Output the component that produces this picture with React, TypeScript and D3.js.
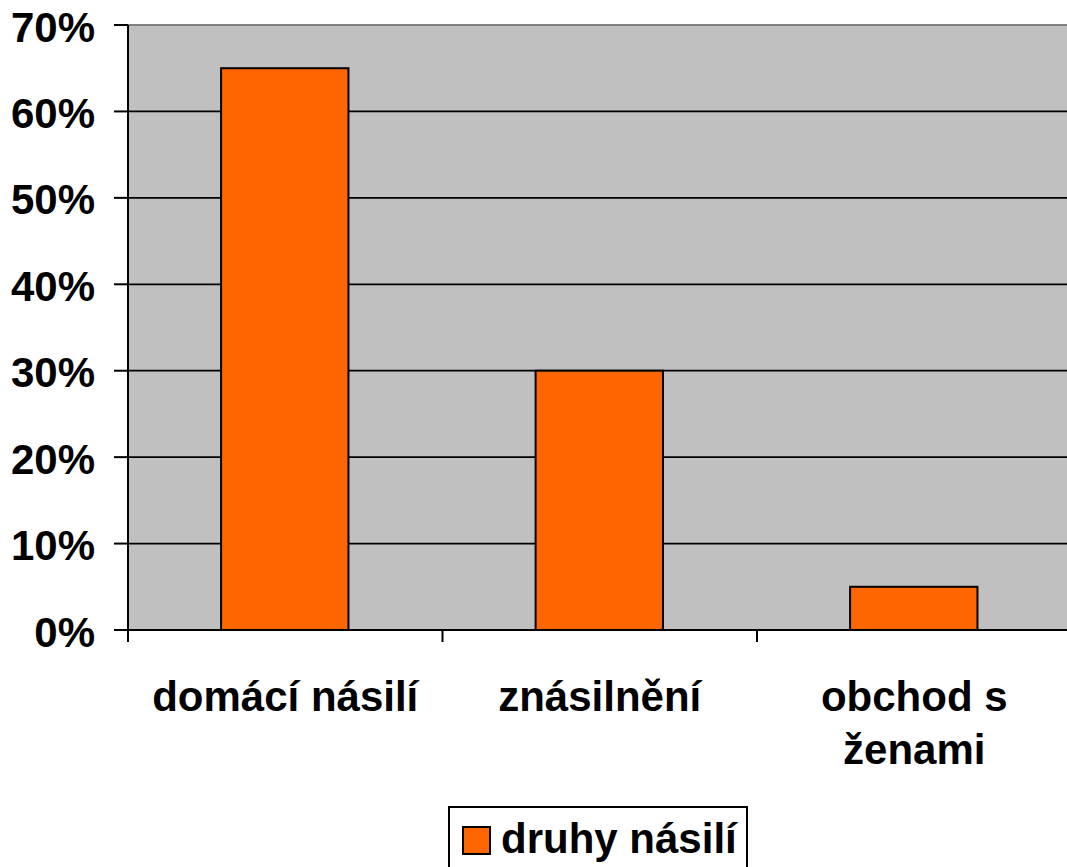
import React, { useEffect, useRef } from "react";
import * as d3 from "d3";

const categories = ["domácí násilí", "znásilnění", "obchod s ženami"];
const values = [0.65, 0.3, 0.05];
const yTicks = [0, 0.1, 0.2, 0.3, 0.4, 0.5, 0.6, 0.7];
const seriesName = "druhy násilí";

const W = 1067;
const H = 867;
const FONT = "'Liberation Sans', Arial, sans-serif";
const FS = 42;

export default function App() {
  const ref = useRef<SVGSVGElement>(null);

  useEffect(() => {
    const svg = d3.select(ref.current);
    svg.selectAll("*").remove();

    const left = 128;
    const top = 25;
    const bottom = 630;

    const x = d3
      .scaleBand<string>()
      .domain(categories)
      .range([left, left + 3 * 314.5])
      .padding(0);
    const y = d3.scaleLinear().domain([0, 0.7]).range([bottom, top]);
    const step = x.step();

    // plot area
    svg
      .append("rect")
      .attr("x", left)
      .attr("y", top)
      .attr("width", x.range()[1] - left)
      .attr("height", bottom - top)
      .attr("fill", "#c0c0c0");

    // gridlines
    svg
      .append("g")
      .selectAll("line")
      .data(yTicks.slice(1, -1))
      .enter()
      .append("line")
      .attr("x1", left)
      .attr("x2", x.range()[1])
      .attr("y1", (d) => y(d))
      .attr("y2", (d) => y(d))
      .attr("stroke", "#000")
      .attr("stroke-width", 1.7);

    // top border
    svg
      .append("line")
      .attr("x1", left)
      .attr("x2", x.range()[1])
      .attr("y1", top)
      .attr("y2", top)
      .attr("stroke", "#808080")
      .attr("stroke-width", 2);

    // bars
    svg
      .append("g")
      .selectAll("rect")
      .data(values)
      .enter()
      .append("rect")
      .attr("x", (d, i) => (x(categories[i]) as number) + step * 0.296)
      .attr("width", step * 0.405)
      .attr("y", (d) => y(d))
      .attr("height", (d) => bottom - y(d))
      .attr("fill", "#ff6600")
      .attr("stroke", "#000")
      .attr("stroke-width", 2);

    // y axis
    svg
      .append("line")
      .attr("x1", left)
      .attr("x2", left)
      .attr("y1", top)
      .attr("y2", bottom)
      .attr("stroke", "#000")
      .attr("stroke-width", 2);
    const yAxis = svg.append("g");
    yAxis
      .selectAll("line")
      .data(yTicks)
      .enter()
      .append("line")
      .attr("x1", left - 14)
      .attr("x2", left)
      .attr("y1", (d) => y(d))
      .attr("y2", (d) => y(d))
      .attr("stroke", "#000")
      .attr("stroke-width", 2);
    yAxis
      .selectAll("text")
      .data(yTicks)
      .enter()
      .append("text")
      .attr("x", 95)
      .attr("y", (d) => y(d) + 16.5)
      .attr("text-anchor", "end")
      .attr("font-family", FONT)
      .attr("font-weight", "bold")
      .attr("font-size", FS)
      .text((d) => d3.format(".0%")(d));

    // x axis
    svg
      .append("line")
      .attr("x1", left)
      .attr("x2", x.range()[1])
      .attr("y1", bottom)
      .attr("y2", bottom)
      .attr("stroke", "#000")
      .attr("stroke-width", 2);
    svg
      .append("g")
      .selectAll("line")
      .data(categories)
      .enter()
      .append("line")
      .attr("x1", (d) => x(d) as number)
      .attr("x2", (d) => x(d) as number)
      .attr("y1", bottom)
      .attr("y2", bottom + 12)
      .attr("stroke", "#000")
      .attr("stroke-width", 2);

    // category labels, wrapped to the band width
    categories.forEach((c) => {
      const cx = (x(c) as number) + step / 2;
      const t = svg
        .append("text")
        .attr("text-anchor", "middle")
        .attr("font-family", FONT)
        .attr("font-weight", "bold")
        .attr("font-size", FS);
      const words = c.split(" ");
      const lines: string[] = [];
      let cur = "";
      words.forEach((w) => {
        const test = cur ? cur + " " + w : w;
        t.text(test);
        const len = (t.node() as SVGTextElement).getComputedTextLength();
        if (len > step * 0.9 && cur) {
          lines.push(cur);
          cur = w;
        } else {
          cur = test;
        }
      });
      lines.push(cur);
      t.text(null);
      lines.forEach((l, i) => {
        t.append("tspan")
          .attr("x", cx)
          .attr("y", 711 + i * 53)
          .text(l);
      });
    });

    // legend
    const lg = svg.append("g");
    lg.append("rect")
      .attr("x", 449)
      .attr("y", 807)
      .attr("width", 298)
      .attr("height", 80)
      .attr("fill", "#fff")
      .attr("stroke", "#000")
      .attr("stroke-width", 2);
    lg.append("rect")
      .attr("x", 463)
      .attr("y", 827)
      .attr("width", 27)
      .attr("height", 27)
      .attr("fill", "#ff6600")
      .attr("stroke", "#000")
      .attr("stroke-width", 2);
    lg.append("text")
      .attr("x", 501)
      .attr("y", 853)
      .attr("font-family", FONT)
      .attr("font-weight", "bold")
      .attr("font-size", FS)
      .text(seriesName);
  }, []);

  return (
    <svg
      ref={ref}
      width={W}
      height={H}
      style={{ position: "absolute", left: 0, top: 0, background: "#fff" }}
    />
  );
}
